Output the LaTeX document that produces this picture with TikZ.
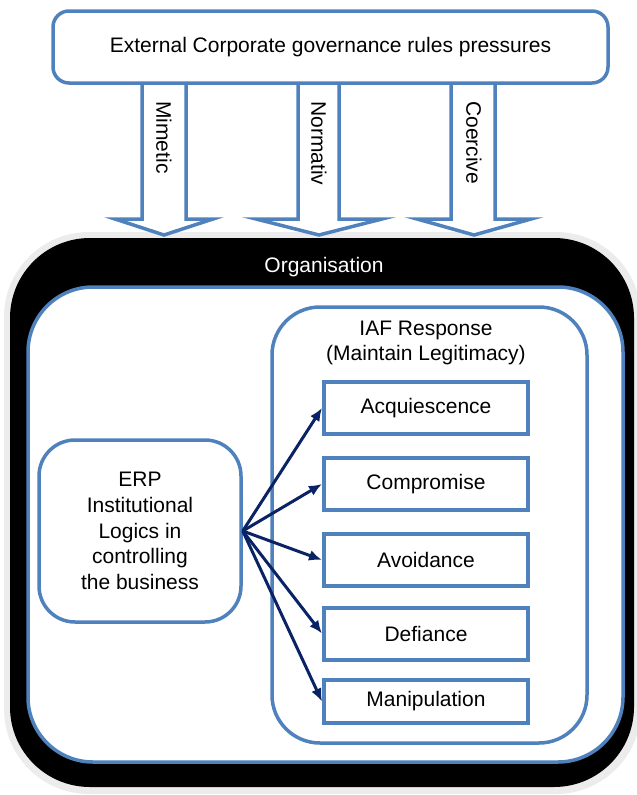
\documentclass[tikz,border=0pt]{standalone}
\usepackage{fontspec}
\setmainfont{Liberation Sans}
\usetikzlibrary{arrows.meta}
\definecolor{bleu}{RGB}{79,129,189}
\definecolor{marine}{RGB}{10,35,100}
\definecolor{halo}{RGB}{236,236,236}

\begin{document}
\begin{tikzpicture}[x=1pt, y=-1pt]
\tikzset{texte/.style={font=\fontsize{21}{25.8}\selectfont, align=center}}
\tikzset{boite/.style={texte, draw=bleu, line width=3.5pt, fill=white, inner sep=0pt}}
\tikzset{reponse/.style={boite, line width=4pt, minimum width=204pt, minimum height=52pt}}
\tikzset{bloc/.style={draw=bleu, line width=3.5pt, fill=white, line join=miter}}
\tikzset{vertical/.style={texte, rotate=-90, anchor=west, inner sep=0pt}}
\tikzset{fleche/.style={draw=marine, line width=3pt, -{Latex[length=13pt, width=11pt]}}}
\useasboundingbox (0,0) rectangle (637,795);
\fill[halo, rounded corners=85pt] (4,232) rectangle (641,794);
\fill[black, rounded corners=80pt] (10,238) rectangle (634,787);
\node[texte, white] (O) at (324,267) {Organisation};
\node[boite, rounded corners=65pt, minimum width=595pt, minimum height=475pt] (I) at (325.5,524.5) {};
\draw[bloc] (142,83) -- (142,219) -- (115,219) -- (164,235) -- (213,219) -- (186,219) -- (186,83);
\draw[bloc] (298,83) -- (298,219) -- (256,219) -- (319,235) -- (382,219) -- (339,219) -- (339,83);
\draw[bloc] (451,83) -- (451,219) -- (417,219) -- (474,235) -- (531,219) -- (495,219) -- (495,83);
\node[boite, rounded corners=16pt, minimum width=555pt, minimum height=72pt] (E) at (330.5,47) {External Corporate governance rules pressures};
\node[vertical] (A1) at (164,101) {Mimetic};
\node[vertical] (A2) at (319,101) {Normativ};
\node[vertical] (A3) at (474,101) {Coercive};
\node[boite, rounded corners=48pt, minimum width=315pt, minimum height=436pt] (IAF) at (429.5,525) {};
\node[texte] (T) at (426,343) {IAF Response\\(Maintain Legitimacy)};
\node[boite, rounded corners=36pt, minimum width=202pt, minimum height=182pt] (L) at (140,531) {ERP\\Institutional\\Logics in\\controlling\\the business};
\node[reponse] (R1) at (426,408) {Acquiescence};
\node[reponse] (R2) at (426,484) {Compromise};
\node[reponse] (R3) at (426,560) {Avoidance};
\node[reponse] (R4) at (426,633.5) {Defiance};
\node[reponse, minimum height=43pt] (R5) at (426,701.5) {Manipulation};
\draw[fleche] (L.east) -- (R1.west);
\draw[fleche] (L.east) -- (R2.west);
\draw[fleche] (L.east) -- (R3.west);
\draw[fleche] (L.east) -- (R4.west);
\draw[fleche] (L.east) -- (R5.west);
\end{tikzpicture}
\end{document}
